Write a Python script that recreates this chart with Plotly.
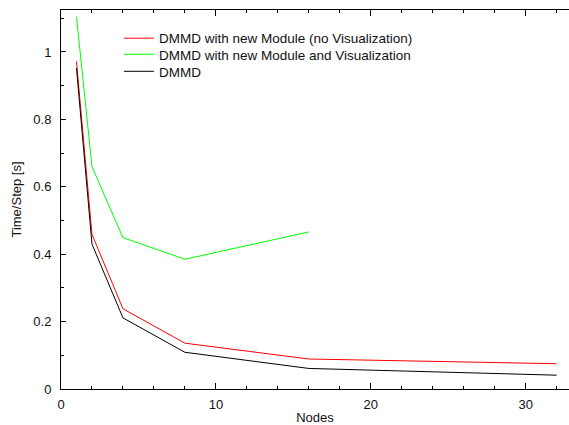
import plotly.graph_objects as go

nodes = [1, 2, 4, 8, 16, 32]
nodes_vis = [1, 2, 4, 8, 16]
dmmd_new_novis = [0.972, 0.459, 0.238, 0.136, 0.089, 0.075]
dmmd_new_vis = [1.105, 0.66, 0.449, 0.385, 0.466]
dmmd = [0.952, 0.43, 0.211, 0.109, 0.061, 0.041]

names = ["DMMD with new Module (no Visualization)",
         "DMMD with new Module and Visualization",
         "DMMD"]

fig = go.Figure()
fig.add_trace(go.Scatter(x=nodes, y=dmmd_new_novis, mode="lines", name=names[0],
                         line=dict(color="#ff0000", width=1), legend="legend"))
fig.add_trace(go.Scatter(x=nodes_vis, y=dmmd_new_vis, mode="lines", name=names[1],
                         line=dict(color="#00ff00", width=1), legend="legend2"))
fig.add_trace(go.Scatter(x=nodes, y=dmmd, mode="lines", name=names[2],
                         line=dict(color="#000000", width=1), legend="legend3"))

leg = dict(x=0.114, xanchor="left", yanchor="middle",
           bgcolor="rgba(0,0,0,0)", font=dict(size=13.5), itemwidth=30)

fig.update_layout(
    width=569, height=425,
    margin=dict(l=61, r=0, t=10, b=36),
    paper_bgcolor="white", plot_bgcolor="white",
    font=dict(family="Liberation Sans, Arial, sans-serif", size=13, color="#111"),
    showlegend=True,
    legend=dict(leg, y=0.925),
    legend2=dict(leg, y=0.8826),
    legend3=dict(leg, y=0.8377),
    xaxis=dict(range=[0, 32.8], showgrid=False, zeroline=False,
               showline=True, linecolor="black", linewidth=1, mirror="ticks",
               ticks="inside", ticklen=6, tickcolor="black", dtick=10, tick0=0,
               ticklabelstandoff=3,
               minor=dict(dtick=2, ticks="inside", ticklen=3, tickcolor="black"),
               title=dict(text="Nodes", standoff=4, font=dict(size=13))),
    yaxis=dict(range=[0, 1.1246], showgrid=False, zeroline=False,
               showline=True, linecolor="black", linewidth=1,
               ticks="inside", ticklen=5, tickcolor="black", dtick=0.2, tick0=0,
               ticklabelstandoff=6,
               minor=dict(dtick=0.1, ticks="inside", ticklen=3, tickcolor="black"),
               title=dict(text="Time/Step [s]", standoff=8, font=dict(size=13))),
)

fig.write_html("out.html")
